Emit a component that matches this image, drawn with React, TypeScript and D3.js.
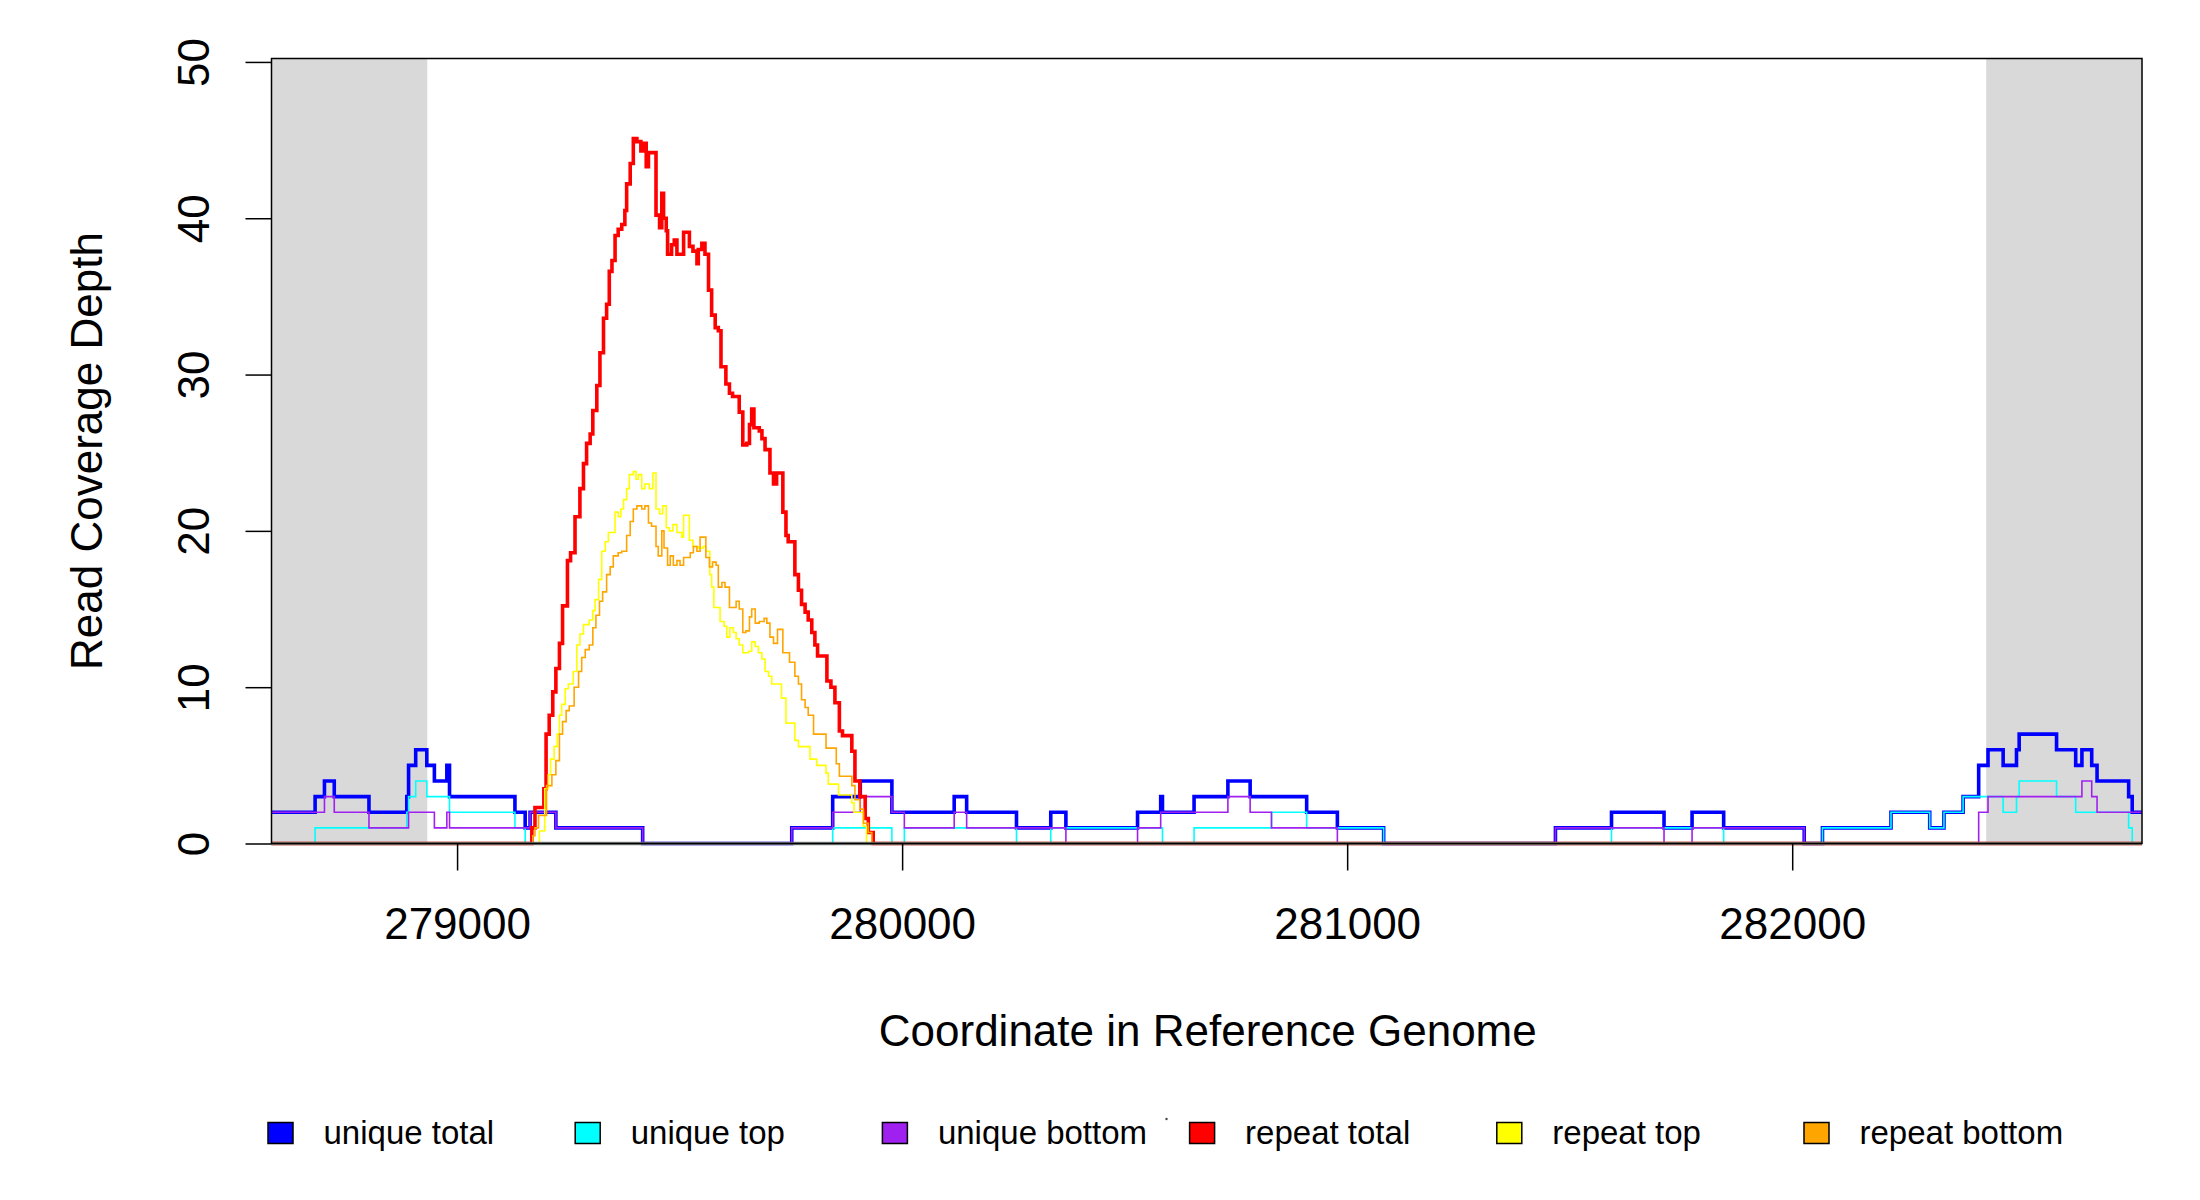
import React, { useRef, useEffect } from 'react';
import * as d3 from 'd3';

// coordinate range and the shaded flank regions
const xStart = 278583;
const xEnd = 282786;
const flankRegions = [
  [278583, 278933],
  [282436, 282786],
];

// each series is a step function: depth holds from pos[i] until pos[i + 1]
const uniqueTotalPos = [
  278583, 278681, 278702, 278724, 278802, 278887, 278891, 278907, 278932, 278949,
  278977, 278983, 279130, 279153, 279164, 279222, 279417, 279752, 279844, 279906,
  279977, 280117, 280145, 280257, 280334, 280368, 280529, 280581, 280585, 280656,
  280732, 280782, 280909, 280978, 281082, 281468, 281594, 281712, 281775, 281846,
  282027, 282068, 282222, 282309, 282341, 282384, 282419, 282440, 282474, 282504,
  282510, 282594, 282637, 282651, 282673, 282685, 282756, 282764,
];
const uniqueTotalDepth = [
  2, 3, 4, 3, 2, 3, 5, 6, 5, 4,
  5, 3, 2, 1, 2, 1, 0, 1, 3, 4,
  2, 3, 2, 1, 2, 1, 2, 3, 2, 3,
  4, 3, 2, 1, 0, 1, 2, 1, 2, 1,
  0, 1, 2, 1, 2, 3, 5, 6, 5, 6,
  7, 6, 5, 6, 5, 4, 3, 2,
];

const uniqueTopPos = [
  278583, 278681, 278887, 278891, 278907, 278932, 278983, 279130, 279153, 279844,
  279977, 280005, 280257, 280334, 280585, 280656, 280830, 280909, 281082, 281594,
  281846, 282068, 282222, 282309, 282341, 282384, 282474, 282504, 282510, 282594,
  282637, 282756, 282764,
];
const uniqueTopDepth = [
  0, 1, 2, 3, 4, 3, 2, 1, 0, 1,
  0, 1, 0, 1, 0, 1, 2, 1, 0, 1,
  0, 1, 2, 1, 2, 3, 2, 3, 4, 3,
  2, 1, 0,
];

const uniqueBottomPos = [
  278583, 278702, 278724, 278802, 278891, 278949, 278977, 278983, 279164, 279222,
  279417, 279752, 279844, 279906, 279977, 280005, 280117, 280145, 280368, 280529,
  280581, 280732, 280782, 280830, 280978, 281468, 281712, 281775, 282027, 282419,
  282440, 282651, 282673, 282685,
];
const uniqueBottomDepth = [
  2, 3, 2, 1, 2, 1, 2, 1, 2, 1,
  0, 1, 2, 3, 2, 1, 2, 1, 0, 1,
  2, 3, 2, 1, 0, 1, 0, 1, 0, 2,
  3, 4, 3, 2,
];

const repeatTotalPos = [
  278583, 279168, 279175, 279195, 279200, 279207, 279215, 279222, 279230, 279237,
  279248, 279255, 279265, 279276, 279284, 279291, 279299, 279305, 279314, 279321,
  279329, 279336, 279342, 279348, 279355, 279362, 279370, 279377, 279381, 279389,
  279396, 279404, 279413, 279420, 279425, 279430, 279447, 279455, 279460, 279464,
  279470, 279473, 279482, 279488, 279494, 279509, 279522, 279530, 279539, 279542,
  279550, 279557, 279565, 279572, 279580, 279587, 279593, 279604, 279612, 279619,
  279634, 279642, 279651, 279657, 279662, 279667, 279679, 279685, 279692, 279703,
  279711, 279718, 279732, 279739, 279744, 279759, 279767, 279774, 279782, 279789,
  279797, 279804, 279810, 279831, 279840, 279849, 279859, 279866, 279887, 279894,
  279905, 279917, 279924, 279935,
];
const repeatTotalDepth = [
  0, 1, 2.3, 3.5, 7.0, 8.2, 9.7, 11.2, 12.8, 15.2,
  18.1, 18.6, 20.9, 22.7, 24.3, 25.6, 26.2, 27.7, 29.3, 31.4,
  33.6, 34.5, 36.6, 37.3, 38.9, 39.3, 39.6, 40.5, 42.2, 43.5,
  45.1, 44.9, 44.3, 44.8, 43.3, 44.2, 40.2, 39.4, 41.6, 40.0,
  39.2, 37.7, 38.3, 38.6, 37.7, 39.1, 38.2, 37.9, 37.1, 38.0,
  38.4, 37.7, 35.4, 33.8, 33.0, 32.8, 30.5, 29.4, 28.8, 28.6,
  27.6, 25.5, 25.6, 26.8, 27.8, 26.6, 26.4, 25.9, 25.2, 23.7,
  23.0, 23.7, 21.2, 19.7, 19.3, 17.2, 16.2, 15.3, 14.8, 14.3,
  13.5, 12.7, 12.0, 10.4, 10.0, 9.0, 7.2, 6.9, 5.9, 4.0,
  3.0, 1.6, 0.7, 0,
];

const repeatTopPos = [
  278583, 279185, 279197, 279205, 279210, 279218, 279225, 279230, 279235, 279243,
  279250, 279261, 279269, 279276, 279284, 279297, 279305, 279310, 279318, 279325,
  279333, 279340, 279355, 279362, 279368, 279374, 279381, 279387, 279396, 279402,
  279407, 279415, 279422, 279432, 279440, 279447, 279455, 279462, 279470, 279477,
  279485, 279494, 279505, 279509, 279522, 279530, 279542, 279553, 279559, 279568,
  279572, 279577, 279591, 279600, 279606, 279613, 279621, 279627, 279634, 279642,
  279655, 279662, 279670, 279677, 279685, 279692, 279700, 279707, 279729, 279739,
  279759, 279767, 279793, 279808, 279829, 279834, 279857, 279887, 279892, 279913,
  279920,
];
const repeatTopDepth = [
  0, 0.8, 3.5, 4.4, 5.4, 6.2, 7.0, 8.2, 8.9, 9.9,
  10.2, 11.0, 12.7, 13.4, 14.0, 14.3, 14.9, 15.6, 16.9, 18.7,
  19.3, 19.9, 21.2, 20.9, 21.4, 22.0, 22.7, 23.6, 23.8, 23.3,
  23.6, 22.7, 23.0, 22.7, 23.7, 21.4, 21.1, 21.6, 20.2, 20.0,
  20.4, 19.9, 19.6, 21.0, 19.4, 19.0, 18.9, 19.0, 18.7, 17.2,
  16.4, 15.1, 14.2, 13.9, 13.2, 13.8, 13.5, 13.1, 12.7, 12.2,
  12.3, 12.9, 12.6, 12.2, 11.8, 11.0, 10.7, 10.2, 9.3, 7.7,
  6.6, 6.2, 5.4, 5.0, 4.5, 3.8, 3.1, 2.6, 2.0, 1.1,
  0,
];

const repeatBottomPos = [
  278583, 279170, 279175, 279183, 279201, 279213, 279222, 279230, 279237, 279245,
  279252, 279263, 279273, 279280, 279288, 279297, 279305, 279312, 279320, 279327,
  279336, 279344, 279351, 279362, 279370, 279381, 279389, 279396, 279404, 279415,
  279422, 279430, 279437, 279447, 279452, 279460, 279465, 279473, 279479, 279486,
  279494, 279501, 279509, 279524, 279531, 279539, 279546, 279559, 279567, 279574,
  279582, 279587, 279595, 279602, 279612, 279627, 279634, 279642, 279649, 279657,
  279662, 279670, 279679, 279690, 279696, 279703, 279711, 279720, 279732, 279747,
  279759, 279767, 279774, 279782, 279789, 279801, 279829, 279852, 279859, 279887,
  279894, 279905, 279913, 279924, 279932,
];
const repeatBottomDepth = [
  0, 0.5, 1.0, 1.8, 3.7, 4.4, 5.3, 7.0, 7.8, 8.5,
  8.8, 10.0, 11.0, 11.9, 12.4, 12.7, 13.8, 14.6, 15.5, 16.1,
  17.2, 17.7, 18.4, 18.6, 18.7, 19.7, 20.6, 21.4, 21.6, 21.4,
  21.6, 20.5, 20.3, 19.0, 18.4, 20.0, 18.9, 17.8, 18.4, 17.8,
  18.1, 17.8, 18.3, 18.6, 19.0, 18.7, 19.6, 18.3, 17.7, 18.0,
  17.8, 16.4, 16.7, 16.4, 15.1, 15.5, 15.0, 13.5, 13.6, 14.5,
  15.0, 14.1, 14.2, 14.4, 14.1, 13.2, 12.8, 13.7, 12.2, 11.6,
  10.7, 10.2, 9.2, 8.7, 8.2, 7.0, 6.1, 5.1, 4.3, 3.7,
  2.8, 2.2, 1.3, 0.7, 0,
];

const xTicks = [279000, 280000, 281000, 282000];
const yTicks = [0, 10, 20, 30, 40, 50];
const legendLabels = ["unique total", "unique top", "unique bottom", "repeat total", "repeat top", "repeat bottom"];
const seriesColors = ["#0000FF", "#00FFFF", "#A020F0", "#FF0000", "#FFFF00", "#FFA500"];

const CoverageChart: React.FC = () => {
  const svgRef = useRef<SVGSVGElement | null>(null);

  useEffect(() => {
    const svg = d3.select(svgRef.current);
    svg.selectAll("*").remove();

    const font = "'Liberation Sans', Arial, sans-serif";
    const plot = { left: 271.5, right: 2142, top: 58.5, bottom: 843.5 };

    const x = d3.scaleLinear().domain([xStart, xEnd]).range([plot.left, plot.right]);
    const y = d3.scaleLinear().domain([0, 50.22]).range([plot.bottom, plot.top]);

    svg.append("rect").attr("width", 2200).attr("height", 1200).attr("fill", "#fff");

    // shaded flanks
    svg.append("g")
      .selectAll("rect")
      .data(flankRegions)
      .join("rect")
      .attr("x", d => x(d[0]))
      .attr("y", plot.top)
      .attr("width", d => x(d[1]) - x(d[0]))
      .attr("height", plot.bottom - plot.top)
      .attr("fill", "#d9d9d9");

    const series = [
      { pos: uniqueTotalPos, depth: uniqueTotalDepth, width: 3.6 },
      { pos: uniqueTopPos, depth: uniqueTopDepth, width: 1.6 },
      { pos: uniqueBottomPos, depth: uniqueBottomDepth, width: 1.6 },
      { pos: repeatTotalPos, depth: repeatTotalDepth, width: 3.6 },
      { pos: repeatTopPos, depth: repeatTopDepth, width: 1.6 },
      { pos: repeatBottomPos, depth: repeatBottomDepth, width: 1.6 },
    ];

    const stepLine = d3.line<[number, number]>()
      .x(d => x(d[0]))
      .y(d => y(d[1]))
      .curve(d3.curveStepAfter);

    const lines = svg.append("g").attr("fill", "none");
    series.forEach((s, i) => {
      const pts: [number, number][] = s.pos.map((p, j) => [p, s.depth[j]]);
      pts.push([xEnd, s.depth[s.depth.length - 1]]);
      lines.append("path")
        .attr("d", stepLine(pts)!)
        .attr("stroke", seriesColors[i])
        .attr("stroke-width", s.width)
        .attr("stroke-linejoin", "miter");
    });

    // the zero level reads as a grey blend of all series in the original
    svg.append("line")
      .attr("x1", plot.left).attr("x2", plot.right)
      .attr("y1", plot.bottom).attr("y2", plot.bottom)
      .attr("stroke", "#767676").attr("stroke-opacity", 0.88).attr("stroke-width", 3.6);

    // plot box
    svg.append("rect")
      .attr("x", plot.left).attr("y", plot.top)
      .attr("width", plot.right - plot.left).attr("height", plot.bottom - plot.top)
      .attr("fill", "none").attr("stroke", "#000").attr("stroke-width", 1.5);

    // X axis
    const xAxis = svg.append("g")
      .attr("transform", `translate(0,${plot.bottom})`)
      .call(d3.axisBottom(x).tickValues(xTicks).tickFormat(d3.format("d")).tickSize(27).tickSizeOuter(0).tickPadding(37));
    xAxis.select(".domain").remove();
    xAxis.selectAll("line").attr("stroke", "#000").attr("stroke-width", 1.5);
    xAxis.selectAll("text").attr("font-family", font).attr("font-size", 44).attr("fill", "#000");

    // Y axis, labels parallel to the axis
    const yAxis = svg.append("g")
      .attr("transform", `translate(${plot.left},0)`)
      .call(d3.axisLeft(y).tickValues(yTicks).tickSize(26).tickSizeOuter(0));
    yAxis.select(".domain").remove();
    yAxis.selectAll("line").attr("stroke", "#000").attr("stroke-width", 1.5);
    yAxis.selectAll("text")
      .attr("x", 0)
      .attr("dy", null)
      .attr("transform", `translate(${209 - plot.left},0) rotate(-90)`)
      .attr("text-anchor", "middle")
      .attr("font-family", font)
      .attr("font-size", 44)
      .attr("fill", "#000");

    // Axis Labels
    svg.append("text")
      .attr("x", (plot.left + plot.right) / 2 + 1)
      .attr("y", 1046)
      .attr("text-anchor", "middle")
      .attr("font-family", font)
      .attr("font-size", 44)
      .text("Coordinate in Reference Genome");

    svg.append("text")
      .attr("transform", `translate(102,${(plot.top + plot.bottom) / 2}) rotate(-90)`)
      .attr("text-anchor", "middle")
      .attr("font-family", font)
      .attr("font-size", 44)
      .text("Read Coverage Depth");

    // Legend
    const legend = svg.append("g");
    legendLabels.forEach((label, i) => {
      const g = legend.append("g").attr("transform", `translate(${268 + i * 307.2},1133)`);
      g.append("rect")
        .attr("y", -10.5)
        .attr("width", 25)
        .attr("height", 21)
        .attr("fill", seriesColors[i])
        .attr("stroke", "#000")
        .attr("stroke-width", 1.5);
      g.append("text")
        .attr("x", 55.5)
        .attr("y", 11)
        .attr("font-family", font)
        .attr("font-size", 33)
        .text(label);
    });
    // stray speck beside the legend in the original
    legend.append("circle").attr("cx", 1166.5).attr("cy", 1119).attr("r", 1.2).attr("fill", "#444");
  }, []);

  return (
    <svg
      ref={svgRef}
      width={2200}
      height={1200}
      style={{ position: 'absolute', left: 0, top: 0 }}
    ></svg>
  );
};

export default CoverageChart;
